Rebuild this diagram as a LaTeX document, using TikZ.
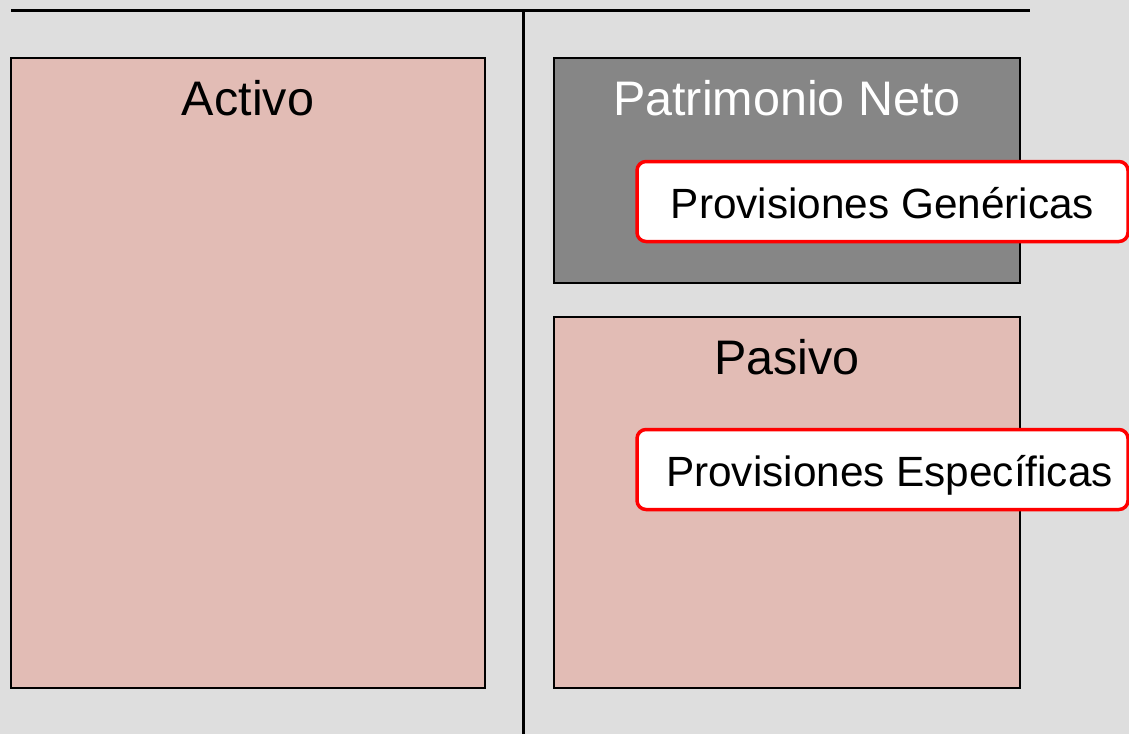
\documentclass[tikz,border=0pt]{standalone}
\usepackage{fontspec}
\setmainfont{Liberation Sans}
\usetikzlibrary{positioning}

\definecolor{fondo}{HTML}{DEDEDE}
\definecolor{rosa}{HTML}{E2BCB5}
\definecolor{grisNeto}{HTML}{868686}
\definecolor{rojo}{HTML}{FF0000}

\begin{document}
\begin{tikzpicture}[x=1pt, y=-1pt,
    cuenta/.style={draw=black, line width=2.2pt, fill=rosa, minimum width=466pt},
    titulo/.style={inner sep=0pt, font=\fontsize{48.5}{56}\selectfont},
    provision/.style={draw=rojo, line width=3.5pt, fill=white, rounded corners=9pt,
      minimum width=491pt, minimum height=80pt, inner sep=0pt,
      text height=33.6pt, text depth=0pt,
      font=\fontsize{42.3}{50}\selectfont}]
    % fondo y marco
    \fill[fondo] (0,0) rectangle (1129,734);
    \useasboundingbox (0,0) rectangle (1129,734);

    % la T del balance
    \coordinate (tIzq) at (11,10);
    \coordinate (tDer) at (1030,10);
    \coordinate (tArriba) at (523,10);
    \coordinate (tAbajo) at (523,734);
    \draw[line width=3pt] (tIzq) -- (tDer);
    \draw[line width=3pt] (tArriba) -- (tAbajo);

    % cuentas
    \node[cuenta, minimum width=474pt, minimum height=630pt] (activo) at (248,373) {};
    \node[cuenta, fill=grisNeto, minimum height=225pt] (neto) at (787,170.5) {};
    \node[cuenta, minimum height=371pt] (pasivo) at (787,502.5) {};

    \node[titulo, below=23pt of activo.north] (activoT) {Activo};
    \node[titulo, text=white, below=23pt of neto.north] (netoT) {Patrimonio Neto};
    \node[titulo, below=23pt of pasivo.north] (pasivoT) {Pasivo};

    % provisiones
    \node[provision] (genericas) at (882.5,201.5) {Provisiones Genéricas};
    \node[provision] (especificas) at (882.5,469.5) {\hspace*{14pt}Provisiones Específicas};
\end{tikzpicture}
\end{document}
